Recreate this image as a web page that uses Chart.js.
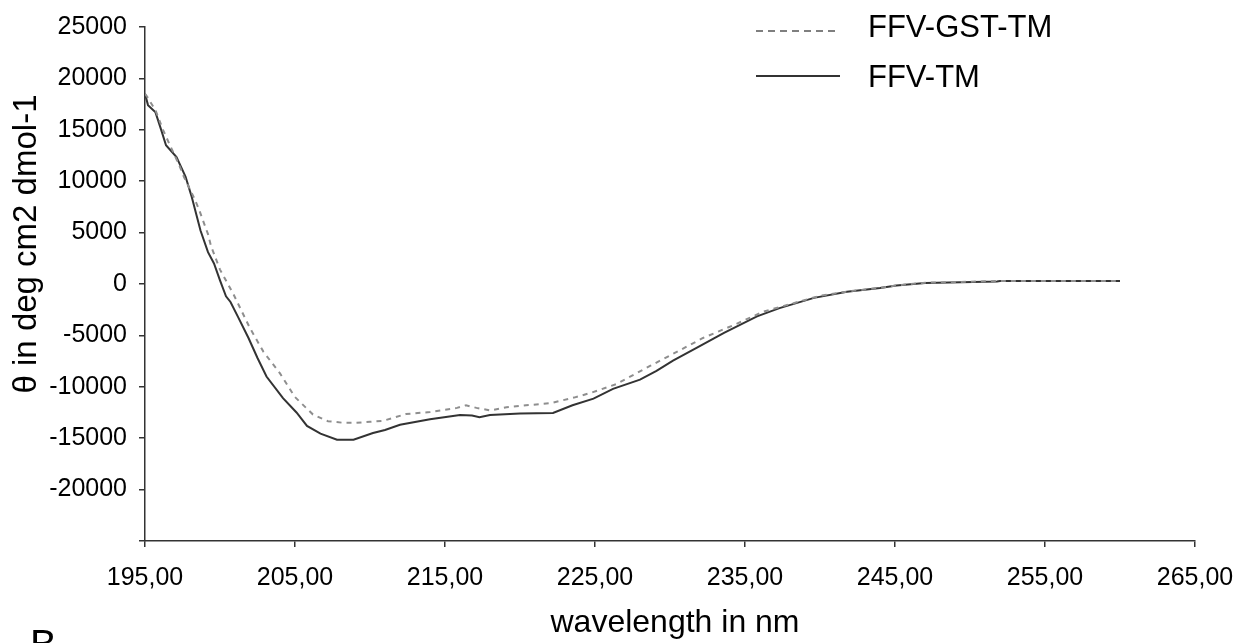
<!DOCTYPE html>
<html>
<head>
<meta charset="utf-8">
<script src="https://cdn.jsdelivr.net/npm/chart.js@4/dist/chart.umd.min.js"></script>
<style>
  html, body { margin: 0; padding: 0; background: #fff; overflow: hidden; }
  #wrap { position: relative; width: 1252px; height: 643px; }
  #c { position: absolute; left: 0; top: 0; }
  #panel { position: absolute; left: 30px; top: 624px; font: 40px "Liberation Sans", Arial, sans-serif; line-height: 1; color: #000; }
</style>
</head>
<body>
<div id="wrap">
  <canvas id="c" width="1252" height="643"></canvas>
  <div id="panel">B</div>
</div>
<script>
// ---- data ----
const seriesNames = ["FFV-GST-TM", "FFV-TM"];

const wavelengthGST = [195.0, 195.15, 195.7, 196.2, 196.6, 197.3, 197.6, 198.3, 198.6, 198.9, 199.2, 199.4, 200.0, 200.9, 202.0, 202.9, 204.0, 205.0, 206.2, 207.2, 208.2, 209.1, 210.0, 210.9, 212.4, 214.0, 215.8, 216.4, 217.1, 218.0, 219.1, 220.4, 222.0, 223.6, 224.7, 226.4, 228.7, 230.2, 232.2, 234.4, 236.2, 238.4, 240.0, 242.0, 244.0, 245.1, 247.0, 252.0, 256.0, 260.0];
const thetaGST = [18500, 18200, 16900, 15000, 13700, 11500, 10400, 8300, 7250, 6050, 4850, 3700, 1400, -1000, -4300, -6600, -8700, -11000, -12700, -13350, -13500, -13500, -13400, -13300, -12650, -12450, -12050, -11800, -12050, -12300, -12000, -11800, -11600, -11050, -10600, -9750, -7950, -6800, -5250, -3900, -2700, -1800, -1150, -700, -380, -130, 120, 300, 300, 300];

const wavelengthTM = [195.0, 195.2, 195.7, 196.1, 196.4, 197.1, 197.7, 198.1, 198.7, 199.2, 199.6, 200.0, 200.4, 200.7, 201.2, 201.9, 202.5, 203.1, 204.2, 205.1, 205.8, 206.7, 207.8, 208.9, 210.2, 211.0, 212.0, 214.0, 216.0, 216.8, 217.3, 218.0, 220.0, 222.2, 223.5, 224.9, 226.2, 228.0, 229.1, 230.2, 231.8, 233.6, 235.8, 237.3, 239.6, 241.8, 244.0, 245.1, 247.0, 251.8, 252.0, 256.0, 260.0];
const thetaTM = [18500, 17400, 16700, 14900, 13500, 12350, 10450, 8550, 5200, 3100, 2000, 350, -1200, -1750, -3200, -5250, -7200, -9000, -11100, -12500, -13800, -14550, -15150, -15150, -14500, -14200, -13700, -13150, -12750, -12800, -12950, -12750, -12600, -12550, -11800, -11150, -10200, -9300, -8450, -7450, -6200, -4750, -3150, -2350, -1350, -750, -400, -150, 100, 250, 300, 300, 300];

const xTickValues = [195, 205, 215, 225, 235, 245, 255, 265];
const yTickValues = [-25000, -20000, -15000, -10000, -5000, 0, 5000, 10000, 15000, 20000, 25000];
const xTitle = "wavelength in nm";
const yTitle = "θ in deg cm2 dmol-1";

// ---- chart ----
const FONT = '"Liberation Sans", Arial, sans-serif';
const toPts = (xs, ys) => xs.map((x, i) => ({ x: x, y: ys[i] }));

const legendStyles = [
  { color: "#555", dash: [7, 5], width: 1.6 },
  { color: "#333", dash: [], width: 2 }
];

const overlay = {
  id: "overlay",
  afterDraw(chart) {
    const ctx = chart.ctx;
    ctx.save();
    ctx.fillStyle = "#000";
    // x title
    ctx.font = "32px " + FONT;
    ctx.textAlign = "center";
    ctx.textBaseline = "alphabetic";
    ctx.fillText(xTitle, 675, 632);
    // y title
    ctx.save();
    ctx.translate(36, 244);
    ctx.rotate(-Math.PI / 2);
    ctx.font = "33px " + FONT;
    ctx.fillText(yTitle, 0, 0);
    ctx.restore();
    // legend
    const rows = [31, 76];
    const bases = [37, 87];
    ctx.font = "31px " + FONT;
    ctx.textAlign = "left";
    seriesNames.forEach((name, i) => {
      const st = legendStyles[i];
      ctx.beginPath();
      ctx.strokeStyle = st.color;
      ctx.lineWidth = st.width;
      ctx.setLineDash(st.dash);
      ctx.moveTo(756, rows[i]);
      ctx.lineTo(840, rows[i]);
      ctx.stroke();
      ctx.setLineDash([]);
      ctx.fillText(name, 868, bases[i]);
    });
    ctx.restore();
  }
};

new Chart(document.getElementById("c"), {
  type: "line",
  data: {
    datasets: [
      {
        label: seriesNames[0],
        data: toPts(wavelengthGST, thetaGST),
        borderColor: "#8e8e8e",
        borderWidth: 2,
        borderDash: [5, 5],
        pointRadius: 0,
        tension: 0,
        fill: false
      },
      {
        label: seriesNames[1],
        data: toPts(wavelengthTM, thetaTM),
        borderColor: "#333",
        borderWidth: 2,
        pointRadius: 0,
        tension: 0,
        fill: false
      }
    ]
  },
  options: {
    responsive: false,
    animation: false,
    layout: { padding: { left: 0, top: 21, right: 57, bottom: 0 } },
    plugins: { legend: { display: false }, tooltip: { enabled: false } },
    scales: {
      x: {
        type: "linear",
        min: xTickValues[0],
        max: xTickValues[xTickValues.length - 1],
        afterFit(s) { s.height = 102; },
        afterBuildTicks(s) { s.ticks = xTickValues.map(v => ({ value: v })); },
        ticks: {
          font: { family: FONT, size: 25 },
          color: "#000",
          padding: 16,
          maxRotation: 0,
          autoSkip: false,
          callback: v => v.toFixed(2).replace(".", ",")
        },
        grid: { drawOnChartArea: false, drawTicks: true, tickLength: 6, color: "#333", lineWidth: 1.5 },
        border: { display: true, color: "#333", width: 1.5 }
      },
      y: {
        type: "linear",
        min: yTickValues[0],
        max: yTickValues[yTickValues.length - 1],
        afterFit(s) { s.width = 145; },
        afterBuildTicks(s) { s.ticks = yTickValues.map(v => ({ value: v })); },
        ticks: {
          font: { family: FONT, size: 25 },
          color: "#000",
          padding: 12,
          autoSkip: false,
          callback: v => (v === yTickValues[0] ? "" : String(v))
        },
        grid: { drawOnChartArea: false, drawTicks: true, tickLength: 6, color: "#333", lineWidth: 1.5 },
        border: { display: true, color: "#333", width: 1.5 }
      }
    }
  },
  plugins: [overlay]
});
</script>
</body>
</html>
